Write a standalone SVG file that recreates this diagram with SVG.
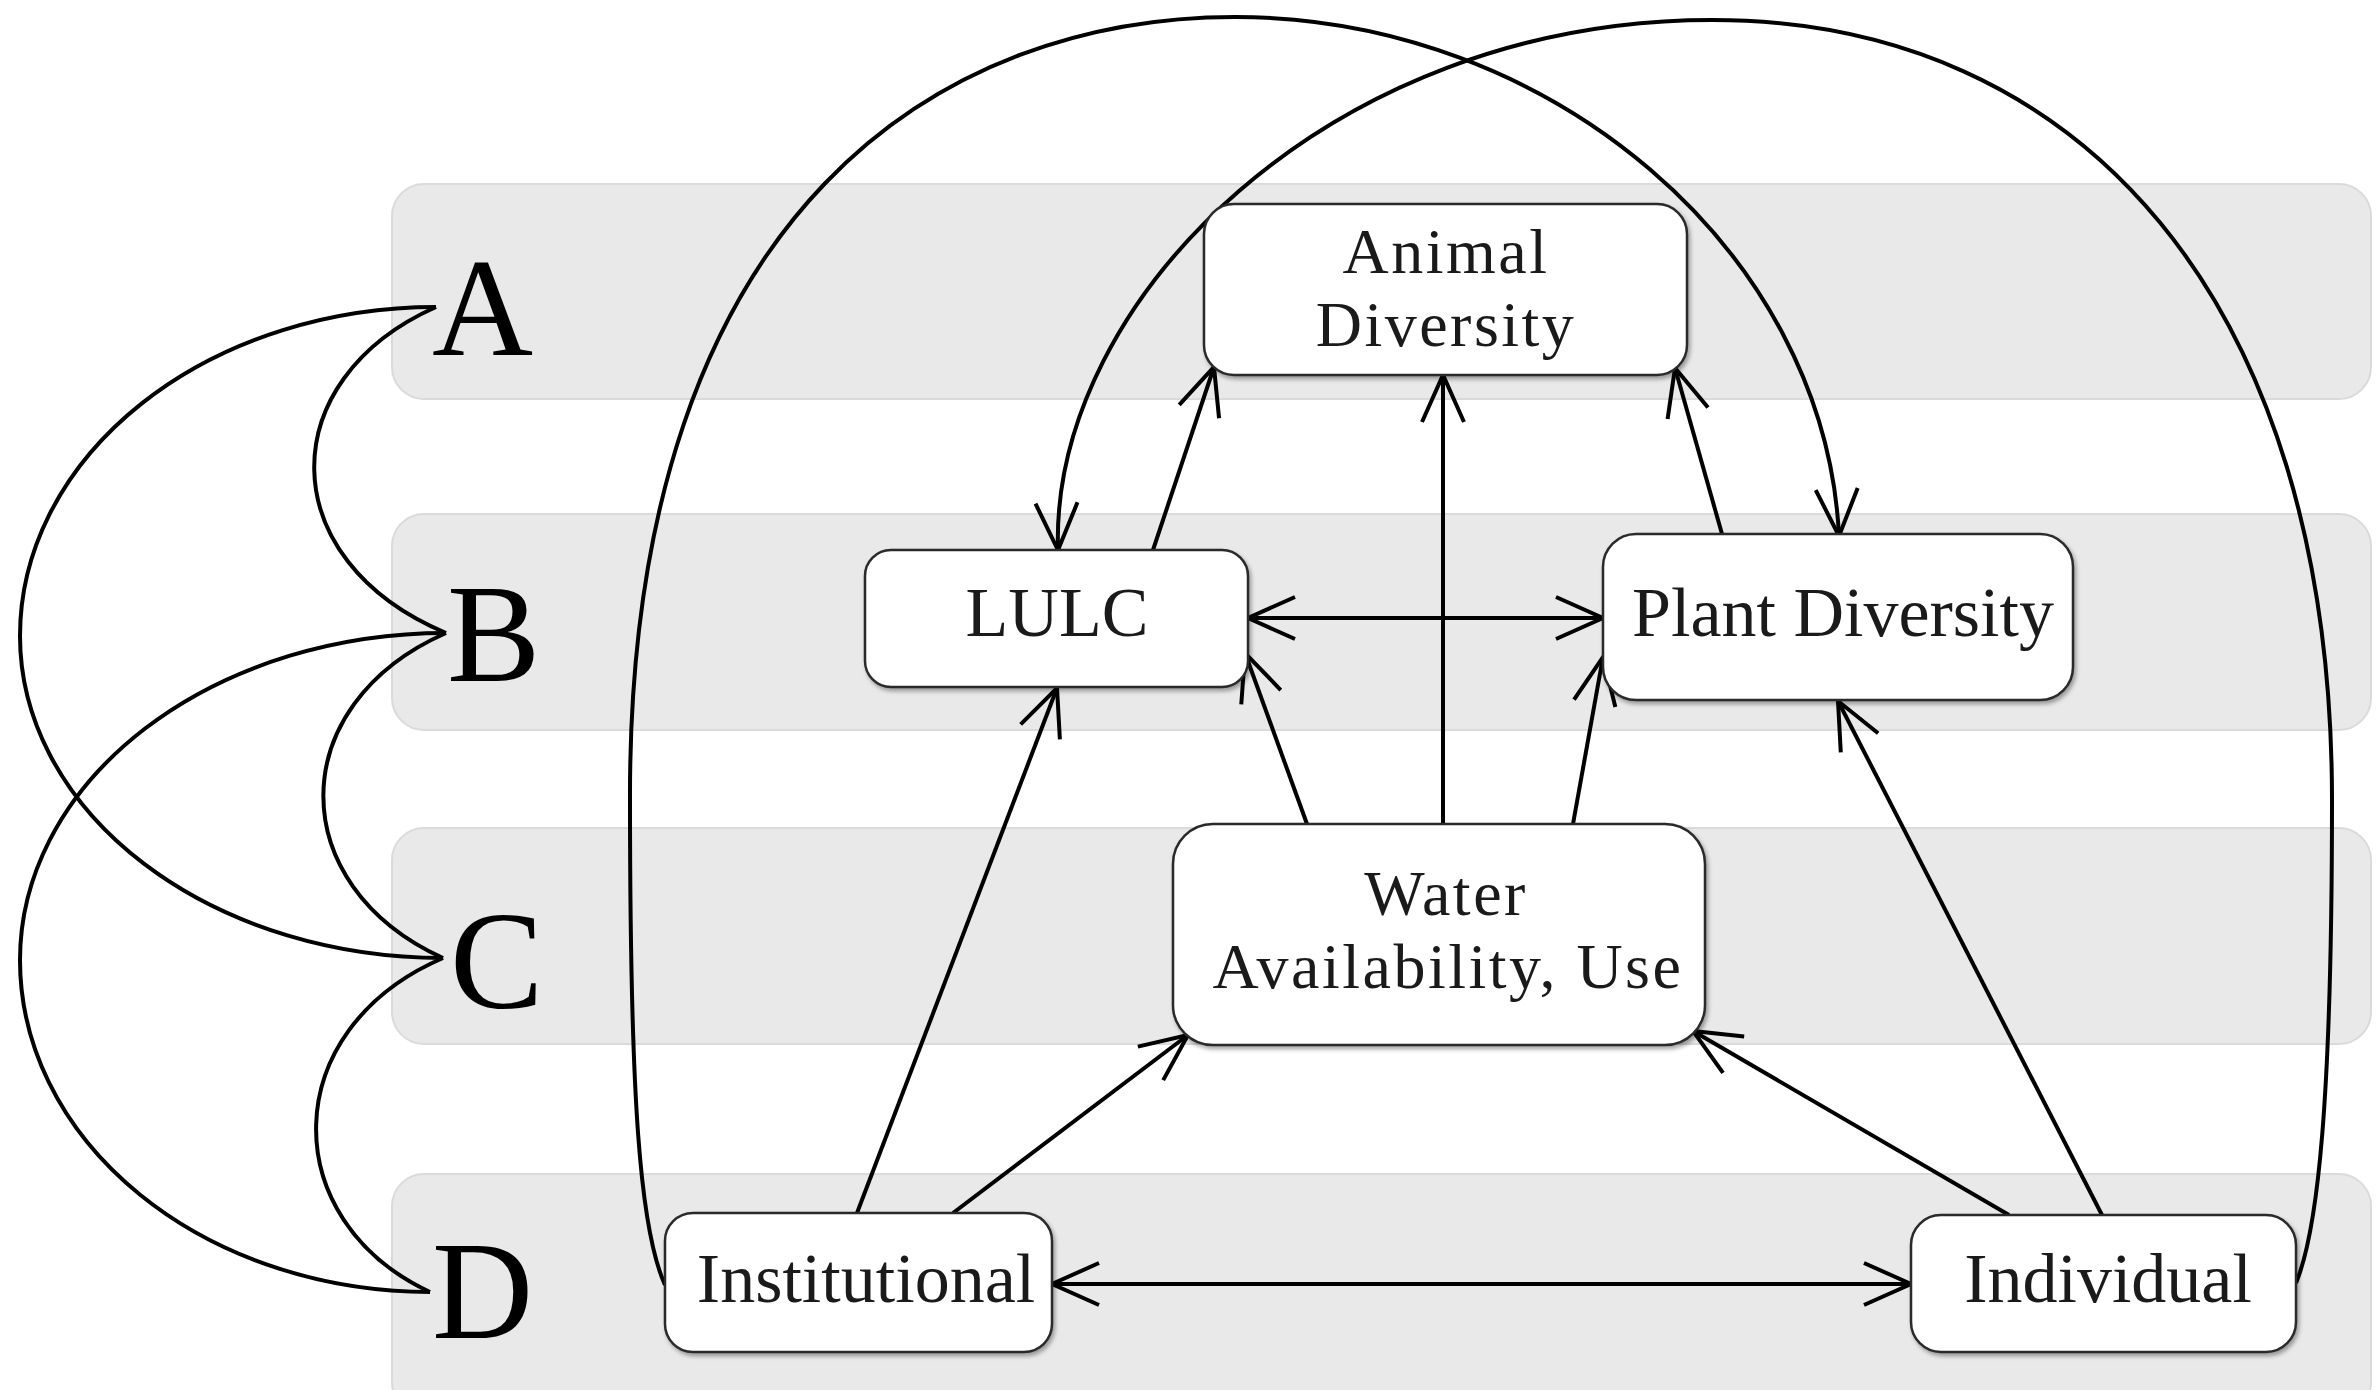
<svg xmlns="http://www.w3.org/2000/svg" width="2380" height="1390" viewBox="0 0 2380 1390">
<defs>
<style>
.band{fill:#e9e9e9;stroke:#dadada;stroke-width:2}
.box{fill:#fff;stroke:#2a2a2a;stroke-width:2.5;filter:url(#sh)}
.lbl{font-family:"Liberation Serif","Times New Roman",serif;font-size:70px;fill:#1a1a1a;text-anchor:middle}
.lbl2{font-family:"Liberation Serif","Times New Roman",serif;font-size:64px;letter-spacing:2.5px;fill:#1a1a1a;text-anchor:middle}
.big{font-family:"Liberation Serif","Times New Roman",serif;font-size:140px;fill:#000}
.c{fill:none;stroke:#000;stroke-width:4}
.a{marker-end:url(#arr)}
.ab{marker-end:url(#arr);marker-start:url(#arr)}
</style>
<marker id="arr" markerUnits="userSpaceOnUse" viewBox="-55 -30 60 60" refX="0" refY="0" markerWidth="60" markerHeight="60" orient="auto-start-reverse" overflow="visible">
<path d="M-47,-21 L0,0 L-47,21" fill="none" stroke="#000" stroke-width="4" stroke-linejoin="miter"/>
</marker>
<filter id="sh" x="-10%" y="-10%" width="120%" height="130%">
<feDropShadow dx="2" dy="3" stdDeviation="2" flood-color="#000" flood-opacity="0.35"/>
</filter>
</defs>
<rect width="2380" height="1390" fill="#fff"/>
<g id="bands">
<rect class="band" x="392" y="184" width="1979" height="215" rx="32"/>
<rect class="band" x="392" y="514" width="1979" height="216" rx="32"/>
<rect class="band" x="392" y="828" width="1979" height="216" rx="32"/>
<rect class="band" x="392" y="1174" width="1979" height="240" rx="32"/>
</g>
<g id="levels">
<text class="big" x="432" y="355">A</text>
<text class="big" x="447" y="681">B</text>
<text class="big" x="450" y="1008">C</text>
<text class="big" x="432" y="1338">D</text>
</g>
<g id="connectors">
<path class="c" d="M436,307 C272,380 272,560 446,633"/>
<path class="c" d="M446,633 C283,705 283,885 443,958"/>
<path class="c" d="M443,958 C276,1030 276,1220 430,1292"/>
<path class="c" d="M436,307 A416,329 0 0 0 20,636 A423,322 0 0 0 443,958"/>
<path class="c" d="M446,633 A426,327 0 0 0 20,960 A410,332 0 0 0 430,1292"/>
<path class="c a" d="M665,1285 C640,1230 630,1100 630,800 C628,200 950,17 1235,17 C1550,17 1825,250 1839,536"/>
<path class="c a" d="M2296,1283 C2318,1230 2332,1100 2332,800 C2332,300 2080,20 1712,20 C1330,20 1050,300 1058,550"/>
<line class="c a" x1="1153" y1="550" x2="1214" y2="367"/>
<line class="c a" x1="1443" y1="824" x2="1443" y2="375"/>
<line class="c a" x1="1722" y1="534" x2="1675" y2="368"/>
<line class="c ab" x1="1248" y1="618" x2="1603" y2="618"/>
<line class="c a" x1="1307" y1="824" x2="1245" y2="653"/>
<line class="c a" x1="1573" y1="824" x2="1603" y2="657"/>
<line class="c a" x1="857" y1="1213" x2="1057" y2="688"/>
<line class="c a" x1="953" y1="1213" x2="1188" y2="1035"/>
<line class="c a" x1="2009" y1="1215" x2="1693" y2="1031"/>
<line class="c a" x1="2102" y1="1215" x2="1838" y2="701"/>
<line class="c ab" x1="1052" y1="1284" x2="1911" y2="1284"/>
</g>
<g id="animal">
<rect class="box" x="1204" y="204" width="483" height="171" rx="30"/>
<text class="lbl2" x="1446" y="273">Animal</text>
<text class="lbl2" x="1446" y="346">Diversity</text>
</g>
<g id="lulc">
<rect class="box" x="865" y="550" width="383" height="137" rx="26"/>
<text class="lbl" x="1057" y="636">LULC</text>
</g>
<g id="plant">
<rect class="box" x="1603" y="534" width="470" height="166" rx="33"/>
<text class="lbl" x="1843" y="636">Plant Diversity</text>
</g>
<g id="water">
<rect class="box" x="1173" y="824" width="532" height="221" rx="40"/>
<text class="lbl2" x="1446" y="915">Water</text>
<text class="lbl2" x="1448" y="988">Availability, Use</text>
</g>
<g id="institutional">
<rect class="box" x="665" y="1213" width="387" height="139" rx="28"/>
<text class="lbl" x="866" y="1302">Institutional</text>
</g>
<g id="individual">
<rect class="box" x="1911" y="1215" width="385" height="137" rx="30"/>
<text class="lbl" x="2108" y="1302">Individual</text>
</g>
</svg>
